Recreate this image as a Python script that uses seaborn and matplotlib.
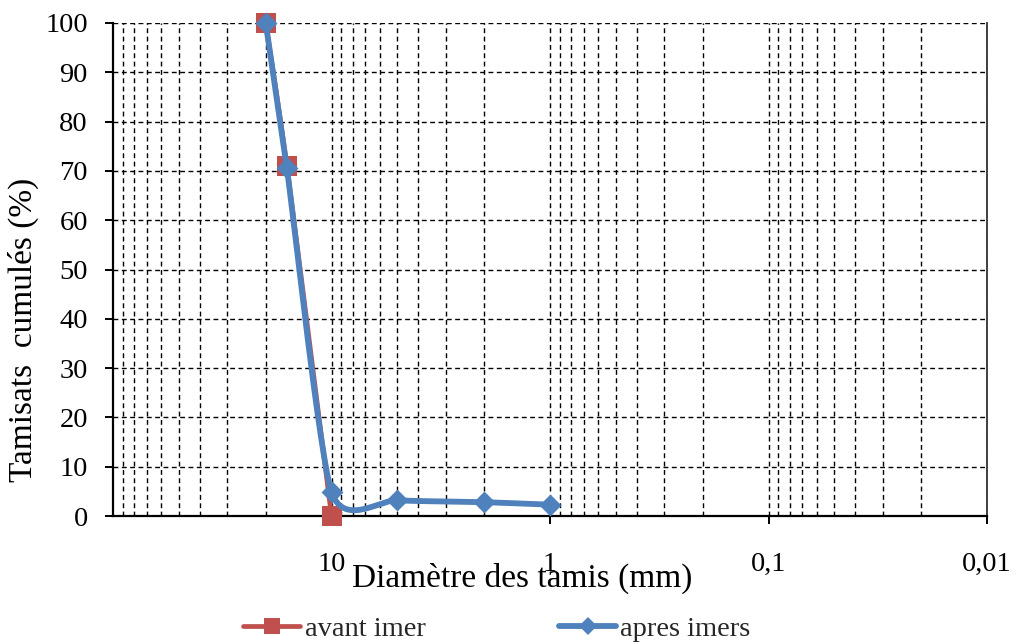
import numpy as np
import pandas as pd
import matplotlib
matplotlib.use("Agg")
import matplotlib.pyplot as plt
import seaborn as sns
from matplotlib.lines import Line2D
from matplotlib.ticker import FixedLocator, FixedFormatter, LogLocator, NullFormatter

# ---- data ----
sizes_avant = [20, 16, 10]
pass_avant = [100, 71, 0]
sizes_apres = [20, 16, 10, 5, 2, 1]
pass_apres = [100, 70.5, 4.9, 3.2, 2.8, 2.3]
xticks = [10, 1, 0.1, 0.01]
xtick_labels = ["10", "1", "0,1", "0,01"]
yticks = list(range(0, 101, 10))
series_names = ["avant imer", "apres imers"]
colors = ["#C0504D", "#4F81BD"]

sns.set_theme(style="white")
plt.rcParams["font.family"] = ["Liberation Serif", "DejaVu Serif"]

fig = plt.figure(figsize=(10.16, 6.44), dpi=100)
ax = fig.add_axes([113/1016, 1-516/644, (987-113)/1016, (516-23)/644])
ax.set_xscale("log")
ax.set_xlim(100, 0.01)
ax.set_ylim(0, 100)


def smooth(xs, ys, k=0.11, n=30):
    """Excel-like smoothed line (cardinal spline in display space)."""
    P = ax.transData.transform(np.column_stack([xs, ys]))
    out = []
    m = len(P)
    for i in range(m - 1):
        p0 = P[i - 1] if i > 0 else P[i]
        p1 = P[i]
        p2 = P[i + 1]
        p3 = P[i + 2] if i + 2 < m else P[i + 1]
        c1 = p1 + (p2 - p0) * k
        c2 = p2 - (p3 - p1) * k
        t = np.linspace(0, 1, n)[:, None]
        seg = ((1-t)**3)*p1 + 3*((1-t)**2)*t*c1 + 3*(1-t)*(t**2)*c2 + (t**3)*p2
        out.append(seg if i == 0 else seg[1:])
    pts = np.vstack(out)
    d = ax.transData.inverted().transform(pts)
    return d[:, 0], d[:, 1]


# avant imer
sx, sy = smooth(sizes_avant, pass_avant)
sns.lineplot(x=sx, y=sy, sort=False, estimator=None, ax=ax, color=colors[0], lw=3.4, zorder=3)
sns.scatterplot(x=sizes_avant, y=pass_avant, ax=ax, marker="s", s=210, color=colors[0],
                edgecolor=colors[0], linewidth=0, zorder=4, clip_on=False)
# apres imers
sx, sy = smooth(sizes_apres, pass_apres)
sns.lineplot(x=sx, y=sy, sort=False, estimator=None, ax=ax, color=colors[1], lw=4.2, zorder=5)
sns.scatterplot(x=sizes_apres, y=pass_apres, ax=ax, marker="D", s=125, color=colors[1],
                edgecolor=colors[1], linewidth=0, zorder=6, clip_on=False)

ax.set_xlim(100, 0.01)
ax.set_ylim(0, 100)

# ticks
ax.xaxis.set_major_locator(FixedLocator(xticks))
ax.xaxis.set_major_formatter(FixedFormatter(xtick_labels))
ax.xaxis.set_minor_locator(LogLocator(base=10, subs=np.arange(2, 10)))
ax.xaxis.set_minor_formatter(NullFormatter())
ax.set_yticks(yticks)
ax.tick_params(axis="x", which="major", bottom=True, direction="out", length=6, width=1.4,
               color="black", labelsize=20.5, pad=20)
ax.tick_params(axis="x", which="minor", bottom=False, length=0)
ax.tick_params(axis="y", which="major", left=True, direction="out", length=6, width=1.4,
               color="black", labelsize=20.5, pad=12)
for lab in ax.get_xticklabels() + ax.get_yticklabels():
    lab.set_color("black")

# grid
ax.grid(which="major", axis="both", color="black", lw=1.0, ls=(0, (3.5, 2.5)), zorder=1)
ax.grid(which="minor", axis="x", color="black", lw=1.0, ls=(0, (3.5, 2.5)), zorder=1)

# spines
ax.spines["top"].set_visible(False)
ax.spines["left"].set_color("black")
ax.spines["left"].set_linewidth(1.6)
ax.spines["bottom"].set_color("black")
ax.spines["bottom"].set_linewidth(1.6)
ax.spines["right"].set_color("#404040")
ax.spines["right"].set_linewidth(1.4)

# labels
ax.set_xlabel("Diamètre des tamis (mm)", fontsize=24, color="black")
ax.xaxis.label.set_va("baseline")
ax.xaxis.set_label_coords((522-113)/874, (516-587)/493)
ax.set_ylabel("Tamisats  cumulés (%)", fontsize=24, color="black")
ax.yaxis.label.set_va("center")
ax.yaxis.set_label_coords((23-113)/874, (516-330)/493)

# legend
handles = [
    Line2D([0], [0], color=colors[0], lw=3.4, marker="s", markersize=12, markeredgewidth=0),
    Line2D([0], [0], color=colors[1], lw=4.2, marker="D", markersize=9, markeredgewidth=0),
]
fig.legend(handles, series_names, loc="center", bbox_to_anchor=(497/1016, 1-629/644),
           ncol=2, frameon=False, fontsize=20.5, handlelength=2.0, handletextpad=0.15,
           columnspacing=4.7, borderaxespad=0, borderpad=0)

fig.savefig("out.png", dpi=100)
